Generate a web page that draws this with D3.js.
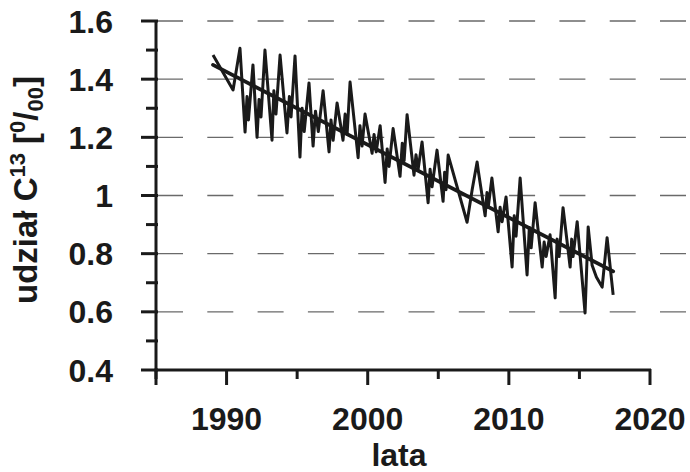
<!DOCTYPE html>
<html>
<head>
<meta charset="utf-8">
<script src="https://cdn.jsdelivr.net/npm/d3@7"></script>
<style>
  body { margin: 0; background: #fff; }
  text { font-family: "Liberation Sans", Arial, sans-serif; font-weight: bold; fill: #1a1a1a; }
</style>
</head>
<body>
<svg id="chart" width="690" height="472"></svg>
<script>
var years = [
  1989.04, 1990.46, 1990.95, 1991.31, 1991.45, 1991.55, 1991.87, 1992.16, 1992.3, 1992.44, 1992.72,
  1993.22, 1993.35, 1993.5, 1993.79, 1994.28, 1994.45, 1994.57, 1994.85, 1995.2, 1995.35, 1995.5, 1995.84,
  1996.13, 1996.3, 1996.5, 1996.84, 1997.26, 1997.4, 1997.55, 1997.83, 1998.25, 1998.4, 1998.54, 1998.75,
  1999.32, 1999.45, 1999.6, 1999.81, 2000.31, 2000.45, 2000.6, 2000.88, 2001.23, 2001.38, 2001.51, 2001.8,
  2002.29, 2002.45, 2002.58, 2002.79, 2003.28, 2003.42, 2003.57, 2003.85, 2004.28, 2004.42, 2004.56, 2004.91,
  2005.34, 2005.45, 2005.55, 2005.7, 2007.04, 2007.4, 2007.75, 2007.85, 2008.32, 2008.45, 2008.54, 2008.8,
  2009.24, 2009.38, 2009.52, 2009.8, 2010.23, 2010.38, 2010.51, 2010.8, 2011.29, 2011.45, 2011.58, 2011.86,
  2012.36, 2012.5, 2012.64, 2012.92, 2013.28, 2013.42, 2013.56, 2013.84, 2014.34, 2014.45, 2014.55, 2014.84,
  2015.4, 2015.62, 2015.9, 2016.2, 2016.61, 2016.96, 2017.39
];
var values = [
  1.483, 1.363, 1.506, 1.218, 1.34, 1.26, 1.449, 1.20, 1.33, 1.27, 1.50,
  1.19, 1.36, 1.28, 1.483, 1.215, 1.34, 1.27, 1.48, 1.132, 1.30, 1.22, 1.387,
  1.17, 1.29, 1.22, 1.36, 1.15, 1.26, 1.19, 1.318, 1.19, 1.28, 1.21, 1.39,
  1.13, 1.24, 1.17, 1.28, 1.145, 1.21, 1.15, 1.24, 1.045, 1.16, 1.10, 1.23,
  1.066, 1.18, 1.12, 1.278, 1.07, 1.14, 1.09, 1.184, 0.975, 1.09, 1.03, 1.156,
  0.98, 1.08, 1.02, 1.139, 0.908, 1.02, 1.115, 1.08, 0.93, 1.01, 0.96, 1.06,
  0.875, 0.96, 0.91, 0.995, 0.754, 0.93, 0.86, 1.06, 0.727, 0.89, 0.82, 0.975,
  0.754, 0.84, 0.79, 0.865, 0.648, 0.85, 0.79, 0.958, 0.754, 0.85, 0.79, 0.91,
  0.596, 0.892, 0.76, 0.72, 0.685, 0.855, 0.658
];
var xTicks = [1985, 1990, 1995, 2000, 2005, 2010, 2015, 2020];
var xLabels = [1990, 2000, 2010, 2020];
var yTicks = [0.4, 0.5, 0.6, 0.7, 0.8, 0.9, 1, 1.1, 1.2, 1.3, 1.4, 1.5, 1.6];
var yLabels = [0.4, 0.6, 0.8, 1, 1.2, 1.4, 1.6];
var gridValues = [0.6, 0.8, 1, 1.2, 1.4, 1.6];

var svg = d3.select("#chart");
var ink = "#1a1a1a";

var x = d3.scaleLinear().domain([1985, 2020]).range([156, 650]);
var y = d3.scaleLinear().domain([0.4, 1.6]).range([370, 21]);

var data = years.map(function (t, i) { return {t: t, v: values[i]}; });

// least squares trend
var mt = d3.mean(years), mv = d3.mean(values);
var slope = d3.sum(data, function (d) { return (d.t - mt) * (d.v - mv); }) /
            d3.sum(data, function (d) { return (d.t - mt) * (d.t - mt); });
var icpt = mv - slope * mt;

/* grid */
svg.append("g").selectAll("line").data(gridValues).join("line")
  .attr("x1", x(1985) + 1).attr("x2", 688)
  .attr("y1", function (d) { return y(d); }).attr("y2", function (d) { return y(d); })
  .attr("stroke", "#6a6a6a").attr("stroke-width", 1.4)
  .attr("stroke-dasharray", "26,24.3");

/* series */
var line = d3.line().x(function (d) { return x(d.t); }).y(function (d) { return y(d.v); });
svg.append("path").datum(data)
  .attr("d", line)
  .attr("fill", "none").attr("stroke", ink)
  .attr("stroke-width", 3).attr("stroke-linejoin", "round");

/* trend */
var t0 = years[0], t1 = years[years.length - 1];
svg.append("line")
  .attr("x1", x(t0)).attr("y1", y(icpt + slope * t0))
  .attr("x2", x(t1)).attr("y2", y(icpt + slope * t1))
  .attr("stroke", ink).attr("stroke-width", 3.8).attr("stroke-linecap", "round");

/* axes */
var axes = svg.append("g").attr("stroke", ink);
axes.append("line").attr("x1", x(1985)).attr("x2", x(1985))
  .attr("y1", y(1.6)).attr("y2", y(0.4) + 15).attr("stroke-width", 3);
axes.append("line").attr("x1", x(1985) - 1.5).attr("x2", x(2020) + 1)
  .attr("y1", y(0.4)).attr("y2", y(0.4)).attr("stroke-width", 3);

axes.selectAll(".yt").data(yTicks).join("line")
  .attr("x1", function (d) { return yLabels.indexOf(d) >= 0 ? x(1985) - 15 : x(1985) - 10; })
  .attr("x2", x(1985) + 2)
  .attr("y1", function (d) { return y(d); }).attr("y2", function (d) { return y(d); })
  .attr("stroke-width", 3);

axes.selectAll(".xt").data(xTicks).join("line")
  .attr("x1", function (d) { return x(d); }).attr("x2", function (d) { return x(d); })
  .attr("y1", y(0.4) - 1)
  .attr("y2", function (d) { return d % 10 === 0 ? y(0.4) + 15 : y(0.4) + 9; })
  .attr("stroke-width", 3);

/* labels */
svg.append("g").selectAll("text").data(yLabels).join("text")
  .attr("x", 113).attr("y", function (d) { return y(d); })
  .attr("dy", "0.36em").attr("text-anchor", "end")
  .style("font-size", "32px")
  .text(function (d) { return d; });

svg.append("g").selectAll("text").data(xLabels).join("text")
  .attr("x", function (d) { return x(d); }).attr("y", 430)
  .attr("text-anchor", "middle")
  .style("font-size", "32px")
  .text(function (d) { return d; });

svg.append("text").attr("x", 399).attr("y", 466)
  .attr("text-anchor", "middle").style("font-size", "32px").text("lata");

var yt = svg.append("text")
  .attr("transform", "translate(37,190) rotate(-90)")
  .attr("text-anchor", "middle").style("font-size", "33px");
yt.append("tspan").text("udział C");
yt.append("tspan").attr("dy", -12).style("font-size", "22px").text("13");
yt.append("tspan").attr("dy", 12).text(" [");
yt.append("tspan").attr("dy", -12).style("font-size", "22px").text("0");
yt.append("tspan").attr("dy", 12).text("/");
yt.append("tspan").attr("dy", 6).style("font-size", "22px").text("00");
yt.append("tspan").attr("dy", -6).text("]");
</script>
</body>
</html>
